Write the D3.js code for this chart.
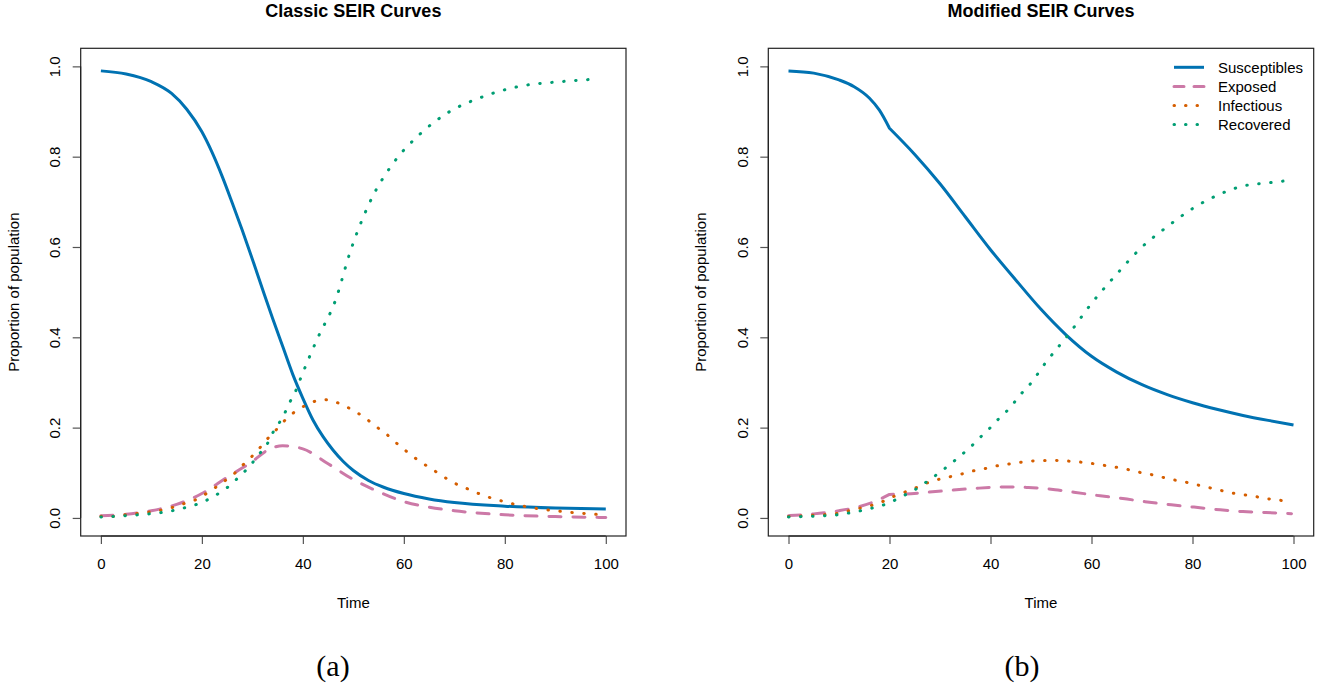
<!DOCTYPE html>
<html><head><meta charset="utf-8">
<script src="https://cdn.jsdelivr.net/npm/d3@7"></script>
<style>
html,body{margin:0;padding:0;background:#fff;}
svg{display:block;font-family:"Liberation Sans",Arial,Helvetica,sans-serif;}
</style></head>
<body>
<svg id="chart" width="1326" height="688"></svg>
<script>
// ---------- data ----------
const panelTitles = ["Classic SEIR Curves", "Modified SEIR Curves"];
const captions = ["(a)", "(b)"];
const seriesNames = ["Susceptibles", "Exposed", "Infectious", "Recovered"];
const seriesColors = ["#0072B2", "#CC79A7", "#D55E00", "#009E73"];
const xTicks = [0, 20, 40, 60, 80, 100];
const yTicks = [0.0, 0.2, 0.4, 0.6, 0.8, 1.0];
const xLabel = "Time";
const yLabel = "Proportion of population";

// Classic model [time, proportion]
const classicS = [[0,0.99],[5,0.983],[10,0.966],[14,0.94],[17,0.905],[20,0.855],[22,0.81],[24,0.757],[26,0.698],[28,0.637],[30,0.573],[32,0.507],[34,0.442],[36,0.38],[38,0.318],[40,0.265],[42,0.217],[44,0.18],[46,0.15],[48,0.125],[50,0.105],[53,0.083],[56,0.068],[60,0.054],[65,0.042],[70,0.034],[80,0.026],[90,0.022],[100,0.02]];
const classicE = [[0,0.005],[5,0.008],[10,0.016],[15,0.03],[20,0.054],[25,0.09],[30,0.125],[33,0.15],[36,0.16],[40,0.153],[45,0.12],[50,0.085],[55,0.058],[60,0.036],[65,0.024],[70,0.016],[80,0.007],[90,0.003],[100,0.001]];
const classicI = [[0,0.004],[2.5,0.004],[4.8,0.007],[7.2,0.01],[9.6,0.013],[11.8,0.017],[14.1,0.023],[16.3,0.031],[18.5,0.039],[20.6,0.052],[22.5,0.066],[24.4,0.081],[26.3,0.097],[28,0.116],[29.7,0.134],[31.3,0.153],[32.8,0.173],[34.3,0.19],[35.9,0.21],[37.6,0.228],[39.7,0.244],[41.8,0.256],[44.2,0.262],[46.4,0.257],[48.5,0.247],[50.6,0.234],[52.5,0.22],[54.4,0.203],[56.3,0.188],[58.1,0.17],[59.8,0.154],[61.7,0.137],[63.6,0.122],[65.6,0.108],[67.5,0.094],[69.5,0.08],[71.7,0.069],[76,0.049],[80.6,0.034],[85.2,0.023],[89.9,0.016],[94.6,0.011],[99.2,0.007]];
const classicR = [[0,0.002],[4.8,0.005],[9.6,0.009],[12,0.012],[14.1,0.016],[16.4,0.022],[18.7,0.029],[20.9,0.039],[23,0.052],[25,0.067],[26.7,0.084],[28.4,0.102],[30,0.122],[31.4,0.142],[32.9,0.163],[33.9,0.186],[35.3,0.21],[36.4,0.232],[37.4,0.256],[38.5,0.279],[39.3,0.302],[43,0.4],[46.4,0.48],[49.4,0.59],[53.3,0.7],[58.2,0.79],[63.2,0.85],[69.1,0.9],[75,0.93],[83,0.956],[90.9,0.966],[98.4,0.972]];

// Modified model [time, proportion]; the intervention at t = 20 leaves a kink
const modKinkTime = 20;
const modS = [[0,0.99],[5,0.985],[10,0.97],[13,0.955],[16,0.93],[18,0.903],[20,0.863],[25,0.805],[30,0.74],[35,0.667],[40,0.594],[45,0.527],[50,0.462],[55,0.405],[60,0.358],[65,0.323],[70,0.295],[75,0.273],[80,0.255],[85,0.24],[90,0.227],[95,0.216],[100,0.206]];
const modE = [[0,0.005],[5,0.009],[10,0.016],[14,0.025],[17,0.036],[20,0.052],[23,0.053],[29.7,0.059],[36.4,0.065],[42.4,0.0685],[47.5,0.0675],[52.8,0.0626],[56.5,0.057],[61.7,0.049],[66.2,0.043],[70.6,0.036],[75.8,0.029],[80.3,0.024],[85.5,0.018],[90,0.014],[94.5,0.012],[99.6,0.0095]];
const modI = [[0,0.003],[4.9,0.006],[9.7,0.01],[12,0.016],[14.3,0.022],[16.5,0.028],[18.8,0.037],[20.9,0.048],[23.2,0.058],[25.5,0.068],[27.3,0.077],[29.6,0.085],[31.9,0.091],[34.2,0.097],[36.5,0.104],[38.8,0.109],[41.1,0.115],[43.4,0.119],[45.7,0.123],[48.1,0.126],[50.5,0.127],[52.8,0.127],[55.2,0.126],[57.5,0.124],[59.8,0.121],[62.2,0.117],[64.5,0.113],[66.9,0.108],[69.1,0.102],[71.4,0.097],[73.7,0.091],[76,0.085],[78.3,0.08],[80.6,0.074],[82.9,0.068],[85.2,0.062],[87.5,0.056],[89.8,0.052],[92.2,0.048],[94.5,0.043],[96.9,0.04],[99.2,0.035]];
const modR = [[0,0.002],[4.9,0.004],[9.7,0.007],[12,0.011],[14.3,0.016],[16.6,0.022],[18.9,0.029],[21,0.039],[23.1,0.051],[25.1,0.063],[27.1,0.078],[29,0.093],[30.9,0.109],[32.8,0.126],[34.6,0.143],[36.3,0.16],[38,0.179],[39.7,0.197],[41.3,0.216],[43,0.234],[44.5,0.253],[46,0.274],[47.6,0.293],[51,0.345],[55.7,0.41],[60,0.475],[65,0.54],[70,0.6],[75,0.645],[80,0.685],[85,0.715],[90,0.735],[95,0.742],[98,0.746]];

const panelData = [
  [classicS, classicE, classicI, classicR],
  [modS, modE, modI, modR]
];
const panelKinks = [[null, null, null, null], [modKinkTime, modKinkTime, null, null]];

// ---------- drawing ----------
const svg = d3.select("#chart");
const dashes = [null, "12,12", "0.5,11.5", "0.5,11.5"];
const widths = [3, 3, 3, 3];

const panels = [
  {x0: 80.7, x1: 626, y0: 48.3, y1: 536, cap: 333},
  {x0: 768.3, x1: 1313.7, y0: 48.3, y1: 536, cap: 1022}
];

panels.forEach((p, pi) => {
  const g = svg.append("g");
  const x = d3.scaleLinear().domain([-4, 104]).range([p.x0, p.x1]);
  const y = d3.scaleLinear().domain([-0.04, 1.04]).range([p.y1, p.y0]);

  const cid = "clip" + pi;
  svg.append("clipPath").attr("id", cid).append("rect")
    .attr("x", p.x0).attr("y", p.y0).attr("width", p.x1 - p.x0).attr("height", p.y1 - p.y0);

  const xAxis = d3.axisBottom(x).tickValues(xTicks).tickSize(8).tickPadding(14).tickFormat(d3.format("d"));
  const gx = g.append("g").attr("transform", `translate(0,${p.y1})`).call(xAxis);
  gx.select(".domain").attr("d", `M${x(0)},0H${x(100)}`).attr("stroke", "#000");
  gx.selectAll(".tick line").attr("stroke", "#555").attr("stroke-width", 1.2);
  gx.selectAll("text").attr("font-size", 15).attr("fill", "#000");

  const yAxis = d3.axisLeft(y).tickValues(yTicks).tickSize(8).tickFormat(d3.format(".1f"));
  const gy = g.append("g").attr("transform", `translate(${p.x0},0)`).call(yAxis);
  gy.select(".domain").attr("d", `M0,${y(0)}V${y(1)}`).attr("stroke", "#000");
  gy.selectAll(".tick line").attr("stroke", "#555").attr("stroke-width", 1.2);
  gy.selectAll("text").attr("font-size", 15).attr("fill", "#000")
    .attr("text-anchor", "middle").attr("dy", null).attr("x", null)
    .attr("transform", "translate(-26,0) rotate(-90)")
    .attr("dominant-baseline", "central");

  g.append("rect").attr("x", p.x0).attr("y", p.y0)
    .attr("width", p.x1 - p.x0).attr("height", p.y1 - p.y0)
    .attr("fill", "none").attr("stroke", "#222").attr("stroke-width", 1.2);

  const line = d3.line().x(d => x(d[0])).y(d => y(d[1])).curve(d3.curveMonotoneX);
  const lg = g.append("g").attr("clip-path", `url(#${cid})`);
  panelData[pi].forEach((series, si) => {
    const k = panelKinks[pi][si];
    let d;
    if (k == null) d = line(series);
    else d = line(series.filter(v => v[0] <= k)) + line(series.filter(v => v[0] >= k)).replace(/^M/, "L");
    lg.append("path").attr("d", d)
      .attr("fill", "none").attr("stroke", seriesColors[si])
      .attr("stroke-width", widths[si])
      .attr("stroke-linecap", si === 0 ? "butt" : "round")
      .attr("stroke-linejoin", "round")
      .attr("stroke-dasharray", dashes[si]);
  });

  const cx = (p.x0 + p.x1) / 2;
  g.append("text").attr("x", cx).attr("y", 17).attr("text-anchor", "middle")
    .attr("font-weight", "bold").attr("font-size", 18).text(panelTitles[pi]);
  g.append("text").attr("x", cx).attr("y", 608).attr("text-anchor", "middle")
    .attr("font-size", 15).text(xLabel);
  g.append("text").attr("transform", `translate(${p.x0 - 62},${(p.y0 + p.y1) / 2}) rotate(-90)`)
    .attr("text-anchor", "middle").attr("font-size", 15).text(yLabel);
  g.append("text").attr("x", p.cap).attr("y", 676).attr("text-anchor", "middle")
    .attr("font-family", "'Liberation Serif','DejaVu Serif',serif")
    .attr("font-size", 30).text(captions[pi]);

  if (pi === 1) {
    const leg = g.append("g");
    seriesNames.forEach((n, si) => {
      const ly = 67.3 + si * 19.1;
      leg.append("line").attr("x1", 1174).attr("x2", 1204).attr("y1", ly).attr("y2", ly)
        .attr("stroke", seriesColors[si]).attr("stroke-width", widths[si])
        .attr("stroke-linecap", si === 0 ? "butt" : "round")
        .attr("stroke-dasharray", si === 1 ? "10,10" : (si > 1 ? "0.5,11" : null));
      leg.append("text").attr("x", 1218).attr("y", ly).attr("dominant-baseline", "central")
        .attr("font-size", 15).text(n);
    });
  }
});
</script>
</body></html>
